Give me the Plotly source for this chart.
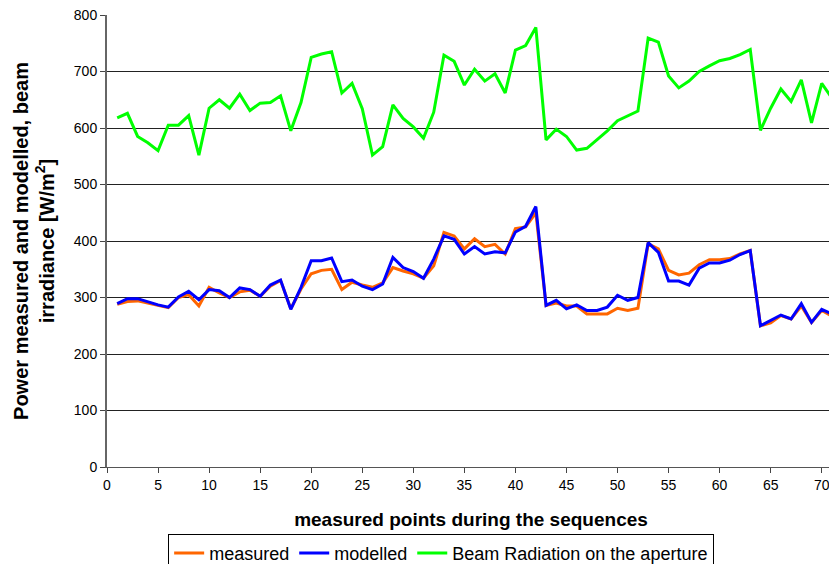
import plotly.graph_objects as go

points = list(range(1, 72))

measured = [288, 293, 294, 290, 285, 282, 300, 305, 285, 318,
            308, 300, 310, 313, 302, 320, 330, 280, 315, 342,
            348, 350, 314, 327, 322, 318, 326, 353, 347, 342,
            334, 356, 415, 409, 386, 404, 390, 394, 377, 422,
            425, 450, 286, 290, 285, 285, 271, 271, 271, 281,
            277, 281, 395, 386, 348, 340, 343, 358, 367, 367,
            369, 377, 383, 250, 255, 268, 262, 285, 256, 277,
            267]

modelled = [289, 298, 298, 292, 287, 283, 301, 311, 296, 314,
            312, 300, 317, 314, 302, 322, 331, 279, 318, 365,
            365, 370, 328, 331, 320, 314, 324, 371, 353, 346,
            334, 368, 409, 403, 377, 390, 377, 381, 379, 416,
            426, 461, 286, 295, 280, 287, 277, 277, 283, 304,
            295, 300, 397, 380, 329, 329, 322, 352, 361, 361,
            366, 376, 383, 250, 259, 269, 262, 289, 256, 279,
            271]

beam = [618, 626, 585, 574, 560, 605, 605, 622, 552, 635,
        650, 635, 660, 631, 644, 645, 657, 595, 645, 725,
        731, 735, 662, 679, 634, 552, 567, 641, 617, 602,
        582, 628, 729, 718, 676, 704, 683, 696, 662, 738,
        746, 778, 579, 598, 585, 561, 564, 579, 595, 613,
        622, 630, 759, 752, 692, 671, 683, 700, 710, 719,
        723, 730, 739, 596, 635, 669, 647, 685, 609, 679,
        653]

x_ticks = list(range(0, 75, 5))
y_ticks = list(range(0, 900, 100))

font_family = "Liberation Sans, Arial, sans-serif"

fig = go.Figure()
fig.add_trace(go.Scatter(x=points, y=measured, mode="lines", name="measured",
                         line=dict(color="#FF6600", width=3)))
fig.add_trace(go.Scatter(x=points, y=modelled, mode="lines", name="modelled",
                         line=dict(color="#0000FF", width=3)))
fig.add_trace(go.Scatter(x=points, y=beam, mode="lines", name="Beam Radiation on the aperture",
                         line=dict(color="#00FF00", width=3)))

fig.update_layout(
    width=829, height=556,
    margin=dict(l=99, r=2, t=7, b=97, autoexpand=False),
    paper_bgcolor="white", plot_bgcolor="white",
    font=dict(family=font_family, size=14, color="black"),
    showlegend=True,
    legend=dict(orientation="h", x=0.459, xanchor="center", y=-0.148, yanchor="top",
                bordercolor="black", borderwidth=1, font=dict(size=18),
                tracegroupgap=0),
    xaxis=dict(
        range=[0, 71.3], tickmode="array", tickvals=x_ticks,
        ticks="outside", ticklen=5, tickcolor="#444",
        showgrid=False, zeroline=False, automargin=False,
        showline=True, linecolor="#555", linewidth=1,
        title=dict(text="<b>measured points during the sequences</b>",
                   font=dict(size=19), standoff=20),
    ),
    yaxis=dict(
        range=[0, 800], tickmode="array", tickvals=y_ticks,
        ticks="outside", ticklen=5, tickcolor="#444",
        ticklabeloverflow="allow",
        showgrid=True, gridcolor="#222", gridwidth=1,
        zeroline=False, automargin=False,
        showline=True, linecolor="#666", linewidth=2,
        title=dict(text="<b>Power measured and modelled, beam<br>irradiance [W/m<sup>2</sup>]</b>",
                   font=dict(size=20), standoff=14),
    ),
)

fig.write_html("out.html")
